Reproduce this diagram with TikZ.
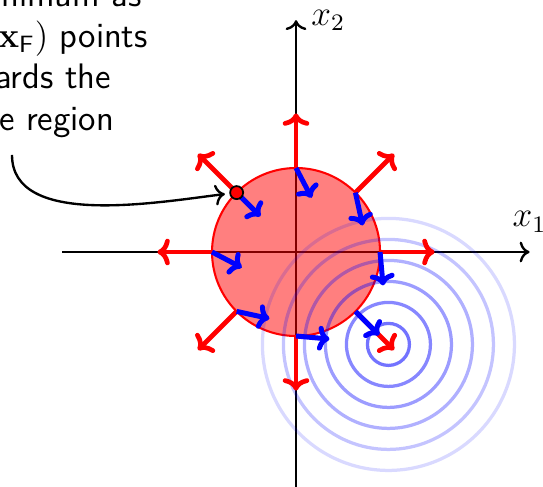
\documentclass[tikz,border=0pt]{standalone}
\usetikzlibrary{calc,arrows.meta}
\tikzset{
  axisline/.style={->, line width=0.8pt, black},
  gradg/.style={-{Computer Modern Rightarrow[length=4.2pt,width=9pt,line width=0pt 1 1,round]}, line width=1.6pt, red},
  gradf/.style={-{Computer Modern Rightarrow[length=4pt,width=8.4pt,line width=0pt 1 1,round]}, line width=1.7pt, blue},
  contour/.style={blue, line width=1.1pt},
  markdot/.style={circle, fill=red, draw=black, line width=0.6pt, inner sep=0pt, minimum size=4.4pt},
  note/.style={font=\large\sffamily, align=center, inner sep=0pt}
}
\begin{document}
\begin{tikzpicture}[font=\large]
\useasboundingbox (-3.524,-2.786) rectangle (2.940,3.0);
\coordinate (O) at (0,0);
\coordinate (xl) at (-2.78,0);
\coordinate (xr) at (2.78,0);
\coordinate (yb) at (0,-2.85);
\coordinate (yt) at (0,2.76);
\draw[axisline] (xl) -- (xr) node[above, yshift=3pt] (lx1) {$x_1$};
\draw[axisline] (yb) -- (yt) node[right, xshift=1.5pt] (lx2) {$x_2$};
\draw[red, line width=0.7pt, fill=red, fill opacity=0.5] (O) circle (1);
\coordinate (c) at (1.1,-1.1);
\foreach \r/\o in {0.25/0.55, 0.5/0.47, 0.75/0.39, 1/0.31, 1.25/0.23, 1.5/0.15}
  \draw[contour, draw opacity=\o] (c) circle (\r);
\foreach \a in {0,45,...,315} {
  \coordinate (p\a) at (\a:1);
  \coordinate (g\a) at (\a:1.65);
  \draw[gradg] (p\a) -- (g\a);
}
\foreach \a in {0,45,...,315}
  \draw[gradf] (p\a) -- ($(p\a)!0.4cm!(c)$);
\node[markdot] (xf) at (135:1) {};
\node[note, anchor=base] (txt) at (-3.2,1.452) {No minimum as\\ $-\nabla f(\mathbf{x}_\mathsf{F})$ points\\ towards the\\ circle region};
\coordinate (cs) at (-3.381,1.155);
\draw[->, line width=0.8pt, shorten >=1.5pt] (cs) to[out=-90, in=187, looseness=0.85] (xf);
\end{tikzpicture}
\end{document}
